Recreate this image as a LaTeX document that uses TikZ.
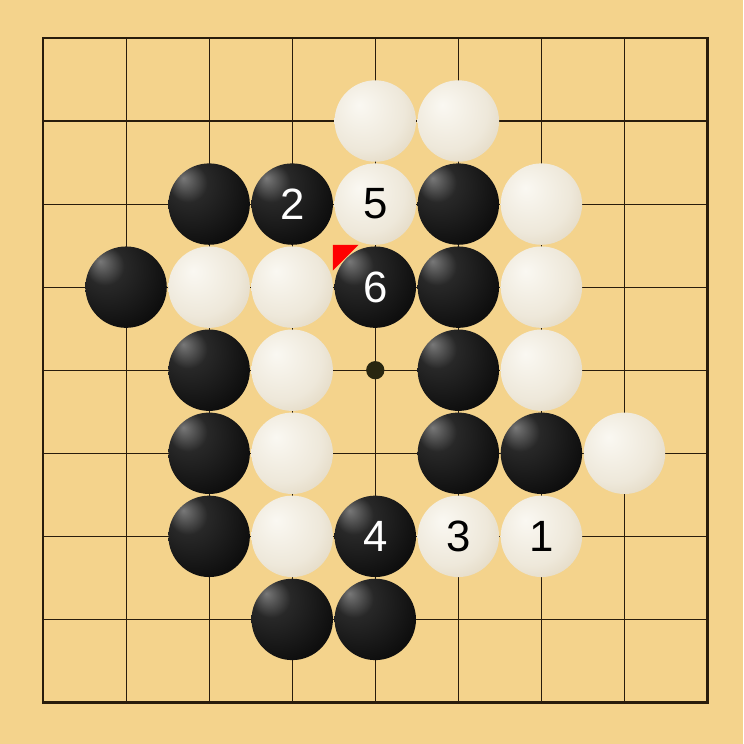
\documentclass[tikz,border=0pt]{standalone}
\usepackage{fontspec}
\newfontfamily\numfont{Liberation Sans}
\usetikzlibrary{positioning}

\definecolor{board}{RGB}{244,211,140}
\definecolor{gridline}{RGB}{40,28,12}
\definecolor{starpt}{RGB}{40,38,16}
\definecolor{bhigh}{RGB}{120,120,120}
\definecolor{bmid}{RGB}{40,40,40}
\definecolor{bdark}{RGB}{14,14,14}
\definecolor{whigh}{RGB}{250,248,242}
\definecolor{wmid}{RGB}{238,232,218}
\definecolor{wlow}{RGB}{220,207,180}
\definecolor{wrim}{RGB}{150,120,75}

\pgfdeclareradialshading{blackstone}{\pgfpoint{-16bp}{16bp}}{%
  color(0bp)=(bhigh); color(12bp)=(bmid); color(34bp)=(bdark); color(66bp)=(black)}
\pgfdeclareradialshading{whitestone}{\pgfpoint{-10bp}{10bp}}{%
  color(0bp)=(whigh); color(24bp)=(wmid); color(42bp)=(wlow); color(62bp)=(wrim)}

\tikzstyle{stone} = [circle, minimum size=0.98cm, inner sep=0pt, text centered, font=\numfont\fontsize{15}{18}\selectfont]
\tikzstyle{bstone} = [stone, shading=blackstone, text=white]
\tikzstyle{wstone} = [stone, shading=whitestone, text=black]
\tikzstyle{line1} = [gridline, line width=0.4pt]
\tikzstyle{line2} = [gridline, line width=0.9pt]

\begin{document}
\begin{tikzpicture}

    % board
    \fill [board] (-0.518, 0.457) rectangle (8.427, -8.5);
    \useasboundingbox (-0.518, 0.457) rectangle (8.427, -8.5);

    \draw [line1] (0, 0) grid (8, -8);
    \draw [line2] (0, 0) rectangle (8, -8);
    \fill [starpt] (4, -4) circle (0.11);

    % row 1
    \node (w41) [wstone] at (4, -1) {};
    \node (w51) [wstone] at (5, -1) {};

    % row 2
    \node (b22) [bstone] at (2, -2) {};
    \node (b32) [bstone] at (3, -2) {2};
    \node (w42) [wstone] at (4, -2) {5};
    \node (b52) [bstone] at (5, -2) {};
    \node (w62) [wstone] at (6, -2) {};

    % row 3
    \node (b13) [bstone] at (1, -3) {};
    \node (w23) [wstone] at (2, -3) {};
    \node (w33) [wstone] at (3, -3) {};
    \node (b43) [bstone] at (4, -3) {6};
    \node (b53) [bstone] at (5, -3) {};
    \node (w63) [wstone] at (6, -3) {};

    % row 4
    \node (b24) [bstone] at (2, -4) {};
    \node (w34) [wstone] at (3, -4) {};
    \node (b54) [bstone] at (5, -4) {};
    \node (w64) [wstone] at (6, -4) {};

    % row 5
    \node (b25) [bstone] at (2, -5) {};
    \node (w35) [wstone] at (3, -5) {};
    \node (b55) [bstone] at (5, -5) {};
    \node (b65) [bstone] at (6, -5) {};
    \node (w75) [wstone] at (7, -5) {};

    % row 6
    \node (b26) [bstone] at (2, -6) {};
    \node (w36) [wstone] at (3, -6) {};
    \node (b46) [bstone] at (4, -6) {4};
    \node (w56) [wstone] at (5, -6) {3};
    \node (w66) [wstone] at (6, -6) {1};

    % row 7
    \node (b37) [bstone] at (3, -7) {};
    \node (b47) [bstone] at (4, -7) {};

    % last move mark
    \coordinate (mark) at (3.49, -2.49);
    \fill [red] (mark) -- ++(0.31, 0) -- ++(-0.31, -0.31) -- cycle;

\end{tikzpicture}
\end{document}
